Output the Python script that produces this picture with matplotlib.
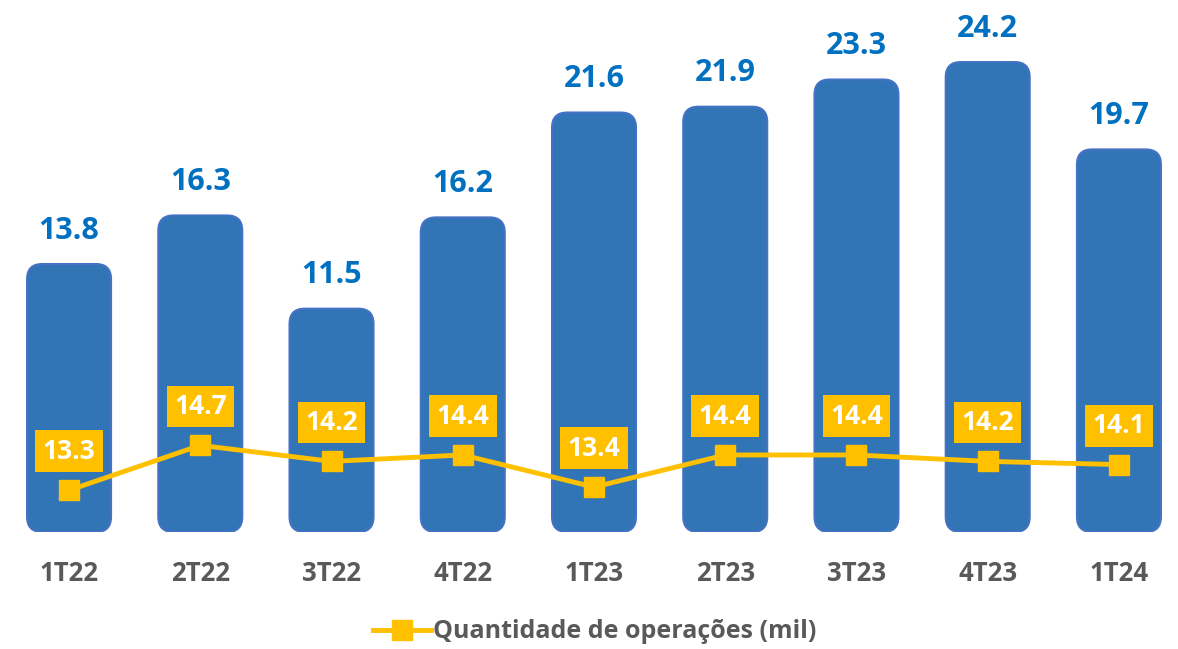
import matplotlib
matplotlib.use("Agg")
import matplotlib.pyplot as plt
from matplotlib.patches import FancyBboxPatch
from matplotlib.lines import Line2D

plt.rcParams['font.family'] = ['Open Sans', 'DejaVu Sans']

quarters = ["1T22", "2T22", "3T22", "4T22", "1T23", "2T23", "3T23", "4T23", "1T24"]
volume = [13.8, 16.3, 11.5, 16.2, 21.6, 21.9, 23.3, 24.2, 19.7]
operations = [13.3, 14.7, 14.2, 14.4, 13.4, 14.4, 14.4, 14.2, 14.1]

blue = "#3175B6"
blue_edge = "#4472C4"
blue_text = "#0070C0"
yellow = "#FFC000"
gray = "#595959"

W, H = 1178, 649
fig = plt.figure(figsize=(W / 100, H / 100), dpi=100)
ax = fig.add_axes([10 / W, (H - 532) / H, 1168 / W, 502 / H])
ax.set_xlim(-0.45, 8.45)
ax.set_ylim(0, 25.85)

x = list(range(len(quarters)))
bar_w = 0.64
# rounded bars
for xi, v in zip(x, volume):
    p = FancyBboxPatch((xi - bar_w / 2, 0), bar_w, v,
                       boxstyle="round,pad=0,rounding_size=0.115",
                       mutation_aspect=6.79,
                       facecolor=blue, edgecolor=blue_edge, linewidth=1.5)
    ax.add_patch(p)
    ax.annotate(f"{v:.1f}", (xi, v), xytext=(0, 24), textcoords="offset points",
                ha="center", va="center", fontsize=22, fontweight="bold",
                color=blue_text)

ax.set_xticks(x)
ax.set_xticklabels(quarters, fontsize=18.5, fontweight="bold", color=gray)
ax.tick_params(axis="x", length=0, pad=20)
ax.set_yticks([])
for s in ax.spines.values():
    s.set_visible(False)

ax2 = ax.twinx()
ax2.set_ylim(12.0, 27.64)
ax2.plot(x, operations, color=yellow, linewidth=3.5, marker="s", markersize=14.5,
         solid_capstyle="round")
for xi, v in zip(x, operations):
    ax2.annotate(f"{v:.1f}", (xi, v), xytext=(0, 28), textcoords="offset points",
                 ha="center", va="center", fontsize=19, fontweight="bold",
                 color="white",
                 bbox=dict(boxstyle="square,pad=0.28", facecolor=yellow,
                           edgecolor="none"))
ax2.set_yticks([])
for s in ax2.spines.values():
    s.set_visible(False)

handle = Line2D([], [], color=yellow, linewidth=3.5, marker="s", markersize=14.5)
fig.legend([handle], ["Quantidade de operações (mil)"], loc="center",
           bbox_to_anchor=(0.505, 1 - 632 / H), frameon=False,
           prop=dict(size=18, weight="bold"), labelcolor=gray,
           handlelength=2.3, handletextpad=0.1)

fig.savefig("out.png", dpi=100)
